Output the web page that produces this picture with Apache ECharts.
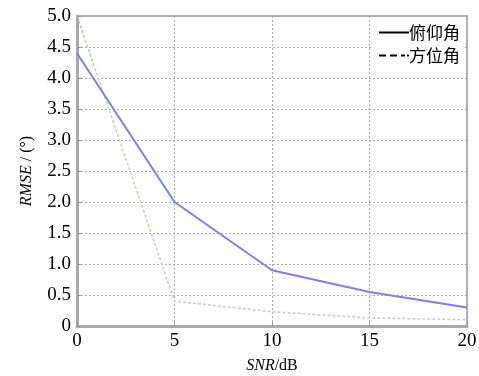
<!DOCTYPE html>
<html><head><meta charset="utf-8">
<script src="https://cdn.jsdelivr.net/npm/echarts@6/dist/echarts.min.js"></script>
<style>html,body{margin:0;padding:0;background:#fff}#c{width:479px;height:376px}</style>
</head><body><div id="c"></div>
<script>
const snr = [0, 5, 10, 15, 20];
const elevation = [4.4, 2.0, 0.9, 0.55, 0.3];
const azimuth = [5.0, 0.4, 0.23, 0.13, 0.1];
const yTicks = [0, 0.5, 1, 1.5, 2, 2.5, 3, 3.5, 4, 4.5, 5];
const seriesNames = ['俯仰角', '方位角'];

const chart = echarts.init(document.getElementById('c'));
const serif = 'Liberation Serif';
const solidIcon = 'path://M0,0h30v2h-30z';
const dashIcon = 'path://M0,0h7v2h-7z M11,0h7v2h-7z M22,0h4v2h-4z M28,0h2v2h-2z';
chart.setOption({
  animation: false,
  backgroundColor: '#fff',
  grid: {left: 77, right: 12, top: 16, bottom: 50, show: true, borderColor: '#b0b0b0', borderWidth: 2,
         outerBoundsMode: 'none', containLabel: false},
  legend: {
    right: 15, top: 19, orient: 'vertical', itemGap: 6, itemWidth: 30, itemHeight: 2,
    backgroundColor: '#fff', padding: [5, 4, 5, 6],
    textStyle: {fontFamily: 'Noto Sans CJK SC', fontSize: 17, color: '#000', padding: [0, 0, 0, -5]},
    data: [
      {name: seriesNames[0], icon: solidIcon, itemStyle: {color: '#000'}},
      {name: seriesNames[1], icon: dashIcon, itemStyle: {color: '#000'}}
    ]
  },
  xAxis: {
    type: 'value', min: 0, max: 20, interval: 5,
    name: '{i|SNR}/dB', nameLocation: 'middle', nameGap: 32,
    nameTextStyle: {fontFamily: serif, fontSize: 16, color: '#000', rich: {i: {fontFamily: serif, fontSize: 16, fontStyle: 'italic'}}},
    axisLine: {show: true, lineStyle: {color: '#aaa', width: 3}},
    axisTick: {show: true, inside: true, length: 4, lineStyle: {color: '#999'}},
    axisLabel: {fontFamily: serif, fontSize: 19, color: '#000', margin: 6},
    splitLine: {show: true, lineStyle: {color: '#aaa', type: [2, 2], width: 1}}
  },
  yAxis: {
    type: 'value', min: 0, max: 5, interval: 0.5,
    name: '{i|RMSE} / (°)', nameLocation: 'middle', nameGap: 42,
    nameTextStyle: {fontFamily: serif, fontSize: 16, color: '#000', rich: {i: {fontFamily: serif, fontSize: 16, fontStyle: 'italic'}}},
    axisLine: {show: true, lineStyle: {color: '#aaa', width: 3}},
    axisTick: {show: true, inside: true, length: 4, lineStyle: {color: '#999'}},
    axisLabel: {fontFamily: serif, fontSize: 19, color: '#000', margin: 6,
      formatter: v => v === 0 ? '0' : v.toFixed(1)},
    splitLine: {show: true, lineStyle: {color: '#aaa', type: [2, 2], width: 1}}
  },
  series: [
    {name: seriesNames[0], type: 'line', symbol: 'none', data: snr.map((x, i) => [x, elevation[i]]),
     lineStyle: {color: '#8080e0', width: 2}, itemStyle: {color: '#8080e0'}, z: 3},
    {name: seriesNames[1], type: 'line', symbol: 'none', data: snr.map((x, i) => [x, azimuth[i]]),
     lineStyle: {color: new echarts.graphic.LinearGradient(0, 0, 0, 1, [
        {offset: 0, color: '#8fd08f'}, {offset: 0.2, color: '#c8d4b0'}, {offset: 1, color: '#c8c8c8'}]),
       width: 1.5, type: [3, 2]},
     itemStyle: {color: '#c8c8c8'}, z: 2}
  ]
});
</script></body></html>
